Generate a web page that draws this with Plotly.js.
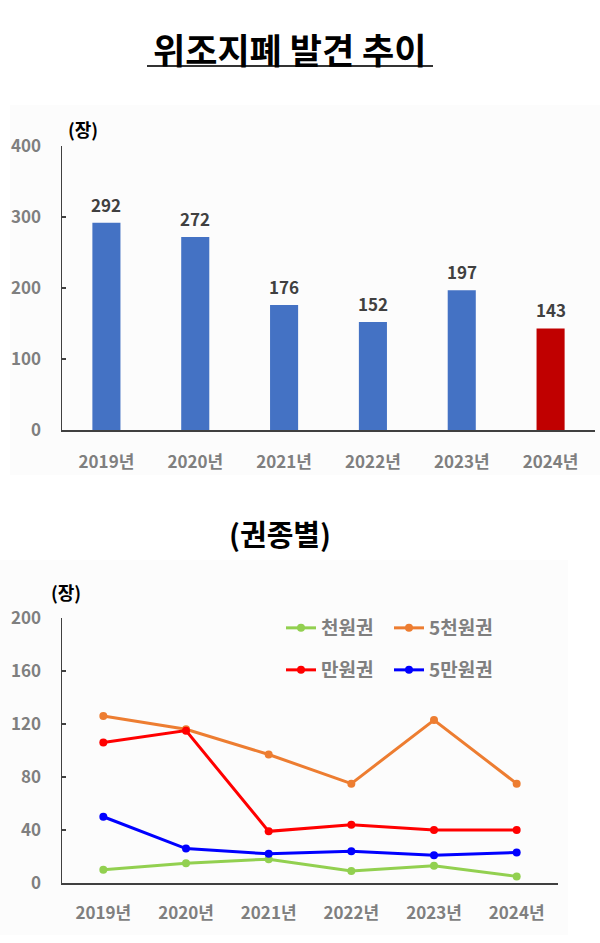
<!DOCTYPE html>
<html>
<head>
<meta charset="utf-8">
<script src="https://cdn.plot.ly/plotly-3.0.1.min.js"></script>
<style>html,body{margin:0;padding:0;background:#fff;}#chart{width:600px;height:943px;}</style>
</head>
<body>
<div id="chart"></div>
<script>
// ---- data ----
const years = ['2019년', '2020년', '2021년', '2022년', '2023년', '2024년'];
const totals = [292, 272, 176, 152, 197, 143];
const seriesNames = ['천원권', '5천원권', '만원권', '5만원권'];
const won1000 = [10, 15, 18, 9, 13, 5];
const won5000 = [126, 116, 97, 75, 123, 75];
const won10000 = [106, 115, 39, 44, 40, 40];
const won50000 = [50, 26, 22, 24, 21, 23];
const barTicks = [0, 100, 200, 300, 400];
const lineTicks = [0, 40, 80, 120, 160, 200];

const FONT = '"Noto Sans CJK KR", "Noto Sans", sans-serif';
const W = 600, H = 943;
const px = v => v / W;
const py = v => 1 - v / H;

const barColors = years.map((y, i) => i === years.length - 1 ? '#C00000' : '#4472C4');

const traces = [
  {
    type: 'bar', x: years, y: totals, xaxis: 'x', yaxis: 'y',
    marker: {color: barColors}, showlegend: false, hoverinfo: 'skip'
  }
];

const lineSeries = [won1000, won5000, won10000, won50000];
const lineColors = ['#92D050', '#ED7D31', '#FF0000', '#0000FF'];
const legendIds = ['legend', 'legend2', 'legend3', 'legend4'];
lineSeries.forEach((vals, i) => {
  traces.push({
    type: 'scatter', mode: 'lines+markers', name: seriesNames[i],
    x: years, y: vals, xaxis: 'x2', yaxis: 'y2',
    line: {color: lineColors[i], width: 3},
    marker: {color: lineColors[i], size: 8},
    legend: legendIds[i], hoverinfo: 'skip'
  });
});

const tickFont = {family: FONT, size: 17, color: '#7F7F7F', weight: 'bold'};
const axisCommon = {
  showgrid: false, zeroline: false, showline: true,
  linecolor: '#404040', linewidth: 1.5, fixedrange: true,
  tickfont: tickFont
};

const annotations = [
  {text: '<b>위조지폐 발견 추이</b>', xref: 'paper', yref: 'paper', x: px(290), y: py(48),
   xanchor: 'center', yanchor: 'middle',
   showarrow: false, font: {family: FONT, size: 35, color: '#000'}},
  {text: '<b>(권종별)</b>', xref: 'paper', yref: 'paper', x: px(280), y: py(533),
   xanchor: 'center', yanchor: 'middle',
   showarrow: false, font: {family: FONT, size: 29, color: '#000'}},
  {text: '<b>(장)</b>', xref: 'paper', yref: 'paper', x: px(83), y: py(129),
   xanchor: 'center', yanchor: 'middle',
   showarrow: false, font: {family: FONT, size: 18, color: '#000'}},
  {text: '<b>(장)</b>', xref: 'paper', yref: 'paper', x: px(66), y: py(592),
   xanchor: 'center', yanchor: 'middle',
   showarrow: false, font: {family: FONT, size: 18, color: '#000'}}
];
years.forEach((yr, i) => {
  annotations.push({
    text: '<b>' + totals[i] + '</b>', xref: 'x', yref: 'y', x: yr, y: totals[i],
    xanchor: 'center', yanchor: 'bottom', yshift: 4, showarrow: false,
    font: {family: FONT, size: 17, color: '#404040'}
  });
});

const legendCommon = {
  orientation: 'h', xanchor: 'left', yanchor: 'middle',
  itemwidth: 30, bgcolor: 'rgba(0,0,0,0)',
  font: {family: FONT, size: 19, color: '#7F7F7F', weight: 'bold'}, itemclick: false
};

const layout = {
  width: W, height: H,
  margin: {l: 0, r: 0, t: 0, b: 0},
  paper_bgcolor: '#fff', plot_bgcolor: 'rgba(0,0,0,0)',
  font: {family: FONT},
  bargap: 0.684,
  xaxis: Object.assign({}, axisCommon, {
    domain: [px(62), px(595)], anchor: 'y', type: 'category',
    range: [-0.5, years.length - 0.5],
    ticks: '', ticklabelstandoff: 16
  }),
  yaxis: Object.assign({}, axisCommon, {
    domain: [py(430), py(146)], anchor: 'x', range: [0, 400],
    tickvals: barTicks, ticks: 'inside', ticklen: 4, tickcolor: '#404040',
    tickwidth: 1.5, ticklabelstandoff: 16
  }),
  xaxis2: Object.assign({}, axisCommon, {
    domain: [px(62), px(558)], anchor: 'y2', type: 'category',
    range: [-0.5, years.length - 0.5],
    ticks: '', ticklabelstandoff: 14
  }),
  yaxis2: Object.assign({}, axisCommon, {
    domain: [py(883), py(618)], anchor: 'x2', range: [0, 200],
    tickvals: lineTicks, ticks: 'inside', ticklen: 4, tickcolor: '#404040',
    tickwidth: 1.5, ticklabelstandoff: 16
  }),
  legend: Object.assign({}, legendCommon, {x: px(281), y: py(628)}),
  legend2: Object.assign({}, legendCommon, {x: px(389), y: py(628)}),
  legend3: Object.assign({}, legendCommon, {x: px(281), y: py(670)}),
  legend4: Object.assign({}, legendCommon, {x: px(389), y: py(670)}),
  shapes: [
    {type: 'rect', xref: 'paper', yref: 'paper', x0: px(10), x1: 1, y0: py(475), y1: py(105),
     fillcolor: '#FCFCFC', line: {width: 0}, layer: 'below'},
    {type: 'rect', xref: 'paper', yref: 'paper', x0: 0, x1: px(568), y0: py(935), y1: py(560),
     fillcolor: '#FCFCFC', line: {width: 0}, layer: 'below'},
    {type: 'line', xref: 'paper', yref: 'paper', x0: px(147), x1: px(433), y0: py(66), y1: py(66),
     line: {color: '#333', width: 2}}
  ],
  annotations: annotations
};

Plotly.newPlot('chart', traces, layout, {displayModeBar: false, staticPlot: true});
</script>
</body>
</html>
